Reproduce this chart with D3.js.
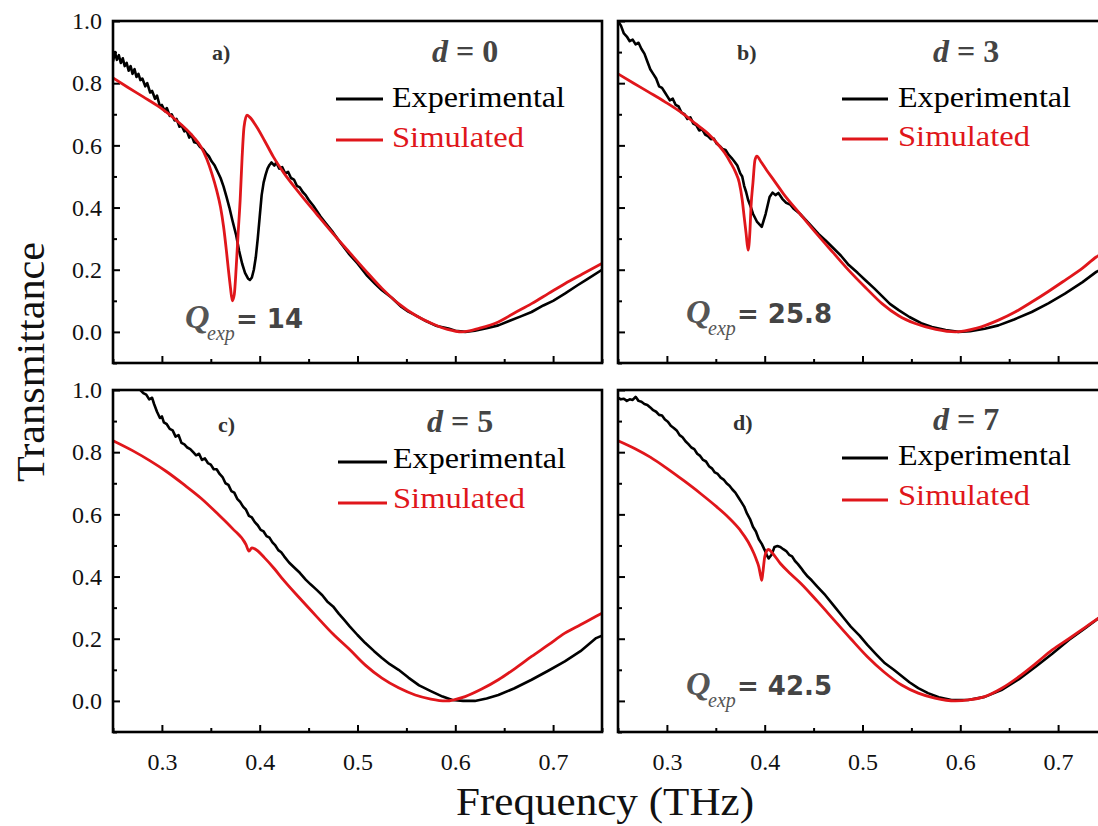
<!DOCTYPE html>
<html><head><meta charset="utf-8">
<script src="https://cdn.jsdelivr.net/npm/d3@7"></script>
<style>body{margin:0;background:#fff}svg{display:block}</style>
</head><body>
<script>
// ---------- DATA ----------
const xTicks = [0.3, 0.4, 0.5, 0.6, 0.7];
const yTicks = [0.0, 0.2, 0.4, 0.6, 0.8, 1.0];
const panelLabels = ["a)", "b)", "c)", "d)"];
const dValues = ["0", "3", "5", "7"];
const qValues = ["14", "25.8", null, "42.5"];
const seriesNames = ["Experimental", "Simulated"];

// Panel a (d = 0)
const expA = [[0.250,0.87],[0.252,0.90],[0.254,0.875],[0.256,0.89],[0.258,0.865],[0.260,0.88],[0.262,0.855],[0.264,0.865],[0.266,0.84],[0.268,0.855],[0.270,0.83],[0.272,0.845],[0.274,0.82],[0.276,0.83],[0.278,0.81],[0.280,0.815],[0.283,0.79],[0.285,0.80],[0.288,0.77],[0.290,0.775],[0.293,0.75],[0.295,0.76],[0.298,0.725],[0.300,0.73],[0.303,0.71],[0.305,0.72],[0.308,0.695],[0.310,0.70],[0.313,0.68],[0.315,0.685],[0.318,0.66],[0.320,0.665],[0.323,0.645],[0.325,0.65],[0.328,0.625],[0.330,0.635],[0.333,0.61],[0.336,0.608],[0.339,0.595],[0.342,0.588],[0.345,0.575],[0.348,0.565],[0.351,0.548],[0.354,0.535],[0.357,0.515],[0.360,0.495],[0.363,0.468],[0.366,0.435],[0.369,0.40],[0.372,0.36],[0.374,0.335],[0.376,0.31],[0.379,0.26],[0.382,0.22],[0.385,0.19],[0.388,0.172],[0.390,0.167],[0.392,0.175],[0.394,0.20],[0.396,0.24],[0.398,0.30],[0.400,0.37],[0.402,0.44],[0.404,0.48],[0.406,0.505],[0.408,0.525],[0.410,0.537],[0.412,0.545],[0.415,0.535],[0.417,0.545],[0.420,0.525],[0.423,0.53],[0.426,0.51],[0.429,0.515],[0.432,0.495],[0.435,0.49],[0.438,0.47],[0.441,0.465],[0.444,0.45],[0.447,0.44],[0.450,0.425],[0.455,0.405],[0.462,0.372],[0.468,0.348],[0.475,0.32],[0.483,0.285],[0.491,0.252],[0.500,0.22],[0.510,0.18],[0.518,0.155],[0.525,0.134],[0.535,0.11],[0.545,0.08],[0.552,0.065],[0.559,0.054],[0.570,0.035],[0.580,0.02],[0.593,0.011],[0.600,0.004],[0.610,0.0],[0.620,0.004],[0.632,0.012],[0.644,0.021],[0.655,0.035],[0.667,0.05],[0.678,0.064],[0.690,0.085],[0.700,0.10],[0.712,0.123],[0.725,0.15],[0.735,0.17],[0.750,0.20]];
const simA = [[0.250,0.817],[0.265,0.787],[0.281,0.756],[0.298,0.722],[0.315,0.680],[0.332,0.628],[0.340,0.595],[0.346,0.555],[0.351,0.510],[0.356,0.455],[0.360,0.400],[0.363,0.340],[0.366,0.260],[0.368,0.200],[0.370,0.145],[0.372,0.100],[0.374,0.120],[0.376,0.209],[0.378,0.320],[0.380,0.423],[0.382,0.560],[0.384,0.660],[0.387,0.697],[0.390,0.690],[0.397,0.659],[0.405,0.615],[0.414,0.563],[0.425,0.510],[0.441,0.445],[0.458,0.380],[0.475,0.316],[0.492,0.255],[0.508,0.198],[0.525,0.140],[0.542,0.091],[0.560,0.052],[0.576,0.027],[0.592,0.008],[0.607,0.0],[0.625,0.012],[0.644,0.032],[0.660,0.060],[0.678,0.091],[0.695,0.123],[0.712,0.155],[0.730,0.186],[0.750,0.220]];

// Panel b (d = 3)
const expB = [[0.250,1.00],[0.253,0.985],[0.256,0.96],[0.259,0.95],[0.262,0.935],[0.265,0.94],[0.268,0.925],[0.271,0.93],[0.274,0.91],[0.277,0.895],[0.280,0.87],[0.283,0.845],[0.286,0.83],[0.289,0.815],[0.292,0.79],[0.295,0.785],[0.298,0.77],[0.300,0.76],[0.303,0.745],[0.306,0.75],[0.309,0.73],[0.312,0.725],[0.315,0.705],[0.318,0.70],[0.321,0.685],[0.324,0.69],[0.327,0.67],[0.330,0.665],[0.333,0.648],[0.336,0.652],[0.339,0.635],[0.342,0.63],[0.345,0.62],[0.348,0.622],[0.351,0.605],[0.354,0.598],[0.357,0.588],[0.360,0.585],[0.363,0.57],[0.366,0.56],[0.369,0.548],[0.372,0.535],[0.375,0.51],[0.377,0.50],[0.379,0.47],[0.381,0.45],[0.383,0.425],[0.386,0.40],[0.388,0.38],[0.392,0.355],[0.397,0.338],[0.401,0.38],[0.405,0.434],[0.408,0.448],[0.411,0.44],[0.414,0.447],[0.418,0.428],[0.422,0.415],[0.426,0.41],[0.430,0.395],[0.436,0.38],[0.445,0.35],[0.455,0.315],[0.462,0.295],[0.469,0.273],[0.478,0.245],[0.486,0.215],[0.495,0.19],[0.503,0.166],[0.512,0.14],[0.520,0.115],[0.528,0.09],[0.537,0.07],[0.548,0.048],[0.560,0.028],[0.571,0.016],[0.585,0.006],[0.598,0.0],[0.610,0.002],[0.625,0.01],[0.639,0.021],[0.655,0.04],[0.673,0.064],[0.690,0.092],[0.707,0.123],[0.725,0.16],[0.739,0.193],[0.750,0.21]];
const simB = [[0.250,0.830],[0.266,0.800],[0.281,0.772],[0.298,0.740],[0.315,0.705],[0.330,0.668],[0.342,0.638],[0.351,0.608],[0.359,0.576],[0.365,0.545],[0.370,0.515],[0.374,0.480],[0.377,0.425],[0.379,0.370],[0.381,0.316],[0.383,0.263],[0.385,0.330],[0.386,0.402],[0.388,0.480],[0.390,0.552],[0.392,0.565],[0.396,0.548],[0.402,0.520],[0.410,0.485],[0.419,0.445],[0.436,0.380],[0.453,0.316],[0.470,0.255],[0.486,0.198],[0.503,0.143],[0.520,0.091],[0.537,0.052],[0.554,0.027],[0.575,0.008],[0.595,0.0],[0.617,0.012],[0.639,0.038],[0.656,0.064],[0.673,0.096],[0.690,0.130],[0.707,0.166],[0.725,0.205],[0.739,0.241],[0.750,0.262]];

// Panel c (d = 5)
const expC = [[0.278,1.00],[0.281,0.99],[0.284,0.985],[0.287,0.97],[0.290,0.975],[0.292,0.955],[0.295,0.93],[0.298,0.91],[0.300,0.915],[0.302,0.896],[0.305,0.89],[0.308,0.875],[0.311,0.87],[0.314,0.85],[0.317,0.855],[0.320,0.83],[0.323,0.825],[0.326,0.815],[0.329,0.81],[0.332,0.80],[0.335,0.79],[0.338,0.795],[0.341,0.775],[0.344,0.78],[0.347,0.765],[0.350,0.76],[0.353,0.745],[0.356,0.745],[0.359,0.73],[0.362,0.72],[0.365,0.70],[0.368,0.695],[0.371,0.675],[0.374,0.67],[0.377,0.65],[0.380,0.64],[0.383,0.625],[0.386,0.615],[0.389,0.595],[0.392,0.59],[0.395,0.575],[0.398,0.565],[0.401,0.55],[0.404,0.545],[0.407,0.53],[0.410,0.525],[0.413,0.51],[0.416,0.50],[0.419,0.485],[0.422,0.478],[0.425,0.465],[0.430,0.445],[0.435,0.43],[0.441,0.412],[0.447,0.39],[0.452,0.375],[0.458,0.358],[0.464,0.34],[0.469,0.32],[0.475,0.304],[0.481,0.28],[0.486,0.262],[0.492,0.24],[0.500,0.212],[0.508,0.186],[0.517,0.16],[0.525,0.138],[0.533,0.118],[0.542,0.10],[0.552,0.075],[0.563,0.05],[0.576,0.03],[0.587,0.014],[0.597,0.003],[0.608,0.0],[0.620,0.0],[0.632,0.008],[0.644,0.019],[0.660,0.04],[0.678,0.068],[0.695,0.097],[0.712,0.127],[0.728,0.16],[0.744,0.202],[0.750,0.21]];
const simC = [[0.250,0.837],[0.270,0.805],[0.288,0.772],[0.305,0.737],[0.322,0.697],[0.340,0.652],[0.356,0.605],[0.372,0.555],[0.386,0.503],[0.389,0.482],[0.392,0.492],[0.395,0.489],[0.405,0.460],[0.415,0.425],[0.424,0.390],[0.441,0.330],[0.458,0.272],[0.475,0.215],[0.492,0.165],[0.508,0.115],[0.525,0.073],[0.542,0.042],[0.559,0.019],[0.575,0.006],[0.590,0.0],[0.610,0.014],[0.627,0.038],[0.644,0.068],[0.661,0.104],[0.678,0.143],[0.695,0.180],[0.712,0.218],[0.728,0.245],[0.744,0.272],[0.750,0.282]];

// Panel d (d = 7)
const expD = [[0.250,0.975],[0.253,0.97],[0.256,0.972],[0.259,0.965],[0.262,0.97],[0.265,0.968],[0.268,0.978],[0.271,0.965],[0.274,0.962],[0.277,0.955],[0.280,0.952],[0.283,0.944],[0.286,0.935],[0.289,0.93],[0.292,0.92],[0.295,0.918],[0.298,0.905],[0.301,0.898],[0.304,0.885],[0.307,0.878],[0.310,0.87],[0.313,0.855],[0.316,0.848],[0.319,0.835],[0.322,0.826],[0.325,0.815],[0.328,0.81],[0.331,0.795],[0.334,0.788],[0.337,0.775],[0.340,0.77],[0.343,0.755],[0.346,0.748],[0.349,0.735],[0.352,0.73],[0.355,0.718],[0.358,0.712],[0.361,0.70],[0.364,0.692],[0.367,0.68],[0.370,0.67],[0.373,0.655],[0.376,0.64],[0.379,0.625],[0.382,0.602],[0.385,0.585],[0.388,0.56],[0.391,0.545],[0.394,0.52],[0.397,0.505],[0.400,0.485],[0.402,0.47],[0.404,0.458],[0.407,0.47],[0.410,0.495],[0.413,0.498],[0.416,0.495],[0.419,0.488],[0.422,0.482],[0.425,0.47],[0.428,0.465],[0.431,0.45],[0.434,0.44],[0.437,0.428],[0.440,0.415],[0.444,0.40],[0.448,0.388],[0.454,0.367],[0.462,0.34],[0.471,0.305],[0.480,0.27],[0.488,0.239],[0.497,0.21],[0.505,0.18],[0.514,0.15],[0.523,0.121],[0.532,0.10],[0.540,0.08],[0.548,0.06],[0.557,0.041],[0.567,0.025],[0.578,0.012],[0.591,0.003],[0.608,0.003],[0.625,0.013],[0.642,0.035],[0.660,0.07],[0.677,0.11],[0.694,0.152],[0.711,0.196],[0.727,0.232],[0.743,0.27],[0.750,0.285]];
const simD = [[0.250,0.837],[0.267,0.812],[0.283,0.784],[0.300,0.748],[0.317,0.709],[0.334,0.668],[0.351,0.624],[0.363,0.590],[0.375,0.549],[0.383,0.512],[0.389,0.474],[0.392,0.450],[0.394,0.431],[0.396,0.400],[0.397,0.388],[0.398,0.410],[0.400,0.463],[0.402,0.482],[0.404,0.487],[0.408,0.475],[0.416,0.442],[0.426,0.410],[0.437,0.378],[0.454,0.320],[0.471,0.260],[0.488,0.200],[0.505,0.142],[0.522,0.093],[0.540,0.051],[0.557,0.025],[0.574,0.009],[0.595,0.0],[0.610,0.004],[0.625,0.014],[0.642,0.040],[0.660,0.078],[0.677,0.120],[0.694,0.164],[0.711,0.200],[0.727,0.235],[0.743,0.270],[0.750,0.285]];

const expSeries = [expA, expB, expC, expD];
const simSeries = [simA, simB, simC, simD];

// ---------- LAYOUT ----------
const W = 1098, H = 826;
const colX = [[113, 602], [618, 1107]];
const rowY = [[21, 363], [390, 732]];
const ann = [
  {lab:[99,39], d:[319,41], leg:[[223,270],[78,119]], legT:[279,[86,126]], q:[72,307]},
  {lab:[119,39], d:[315,41], leg:[[224,270],[78,118]], legT:[280,[86,125]], q:[68,302]},
  {lab:[105,42], d:[314,42], leg:[[225,274],[72,113]], legT:[280,[78,118]], q:null},
  {lab:[115,40], d:[315,40], leg:[[224,270],[68,110]], legT:[280,[75,115]], q:[68,305]}
];
const colors = {exp:"#000000", sim:"#e0161b"};
const SERIF = "'Liberation Serif','Times New Roman',Times,serif";

const svg = d3.select("body").append("svg").attr("width", W).attr("height", H)
  .attr("font-family", SERIF);

for (let i = 0; i < 4; i++) {
  const col = i % 2, row = Math.floor(i / 2);
  const [x0, x1] = colX[col], [y0, y1] = rowY[row];
  const x = d3.scaleLinear().domain([0.25, 0.75]).range([x0, x1]);
  const y = d3.scaleLinear().domain([-0.1, 1.0]).range([y1, y0]);
  const g = svg.append("g");
  const clipId = "clip" + i;
  svg.append("clipPath").attr("id", clipId).append("rect")
    .attr("x", x0).attr("y", y0).attr("width", x1 - x0).attr("height", y1 - y0);

  // axes (ticks inward)
  const xMinor = d3.range(0.25, 0.751, 0.05).filter(v => !xTicks.some(t => Math.abs(t - v) < 1e-6));
  const yMinor = d3.range(-0.1, 1.001, 0.2).map(v => +v.toFixed(2));
  const xAx = g.append("g").attr("transform", `translate(0,${y1})`)
    .call(d3.axisBottom(x).tickValues(xTicks).tickSizeInner(-7).tickSizeOuter(0)
      .tickFormat(row === 1 ? d3.format(".1f") : () => ""));
  xAx.attr("font-family", SERIF).attr("font-size", 24);
  xAx.select(".domain").remove();
  xAx.selectAll(".tick line").attr("stroke-width", 2);
  xAx.selectAll("text").attr("y", 21).attr("fill", "#111");
  g.append("g").attr("transform", `translate(0,${y1})`)
    .call(d3.axisBottom(x).tickValues(xMinor).tickSizeInner(-4).tickSizeOuter(0).tickFormat(() => ""))
    .call(a => a.select(".domain").remove()).selectAll("line").attr("stroke-width", 2);

  const yAx = g.append("g").attr("transform", `translate(${x0},0)`)
    .call(d3.axisLeft(y).tickValues(yTicks).tickSizeInner(-7).tickSizeOuter(0)
      .tickFormat(col === 0 ? d3.format(".1f") : () => ""));
  yAx.attr("font-family", SERIF).attr("font-size", 24);
  yAx.select(".domain").remove();
  yAx.selectAll(".tick line").attr("stroke-width", 2);
  yAx.selectAll("text").attr("x", -11).attr("fill", "#111");
  g.append("g").attr("transform", `translate(${x0},0)`)
    .call(d3.axisLeft(y).tickValues(yMinor).tickSizeInner(-4).tickSizeOuter(0).tickFormat(() => ""))
    .call(a => a.select(".domain").remove()).selectAll("line").attr("stroke-width", 2);

  // curves
  const lineExp = d3.line().x(d => x(d[0])).y(d => y(d[1])).curve(d3.curveLinear);
  const lineSim = d3.line().x(d => x(d[0])).y(d => y(d[1])).curve(d3.curveMonotoneX);
  g.append("path").datum(expSeries[i]).attr("d", lineExp).attr("fill", "none")
    .attr("stroke", colors.exp).attr("stroke-width", 2.6).attr("stroke-linejoin", "round")
    .attr("clip-path", `url(#${clipId})`);
  g.append("path").datum(simSeries[i]).attr("d", lineSim).attr("fill", "none")
    .attr("stroke", colors.sim).attr("stroke-width", 2.8).attr("clip-path", `url(#${clipId})`);

  // frame
  g.append("rect").attr("x", x0).attr("y", y0).attr("width", x1 - x0).attr("height", y1 - y0)
    .attr("fill", "none").attr("stroke", "#000").attr("stroke-width", 2.6);

  // annotations
  const a = ann[i];
  g.append("text").attr("x", x0 + a.lab[0]).attr("y", y0 + a.lab[1])
    .attr("font-size", 22).attr("font-weight", "bold").attr("fill", "#333").text(panelLabels[i]);
  const dt = g.append("text").attr("x", x0 + a.d[0]).attr("y", y0 + a.d[1])
    .attr("font-size", 32).attr("font-weight", "bold").attr("fill", "#444");
  dt.append("tspan").attr("font-style", "italic").text("d");
  dt.append("tspan").text(" = " + dValues[i]);

  // legend
  [colors.exp, colors.sim].forEach((c, k) => {
    g.append("line").attr("x1", x0 + a.leg[0][0]).attr("x2", x0 + a.leg[0][1])
      .attr("y1", y0 + a.leg[1][k]).attr("y2", y0 + a.leg[1][k])
      .attr("stroke", c).attr("stroke-width", 3);
    g.append("text").attr("x", x0 + a.legT[0]).attr("y", y0 + a.legT[1][k])
      .attr("font-size", 30).attr("fill", c)
      .attr("textLength", k === 0 ? 173 : 132).attr("lengthAdjust", "spacingAndGlyphs")
      .text(seriesNames[k]);
  });

  // Q annotation
  if (a.q) {
    const qx = x0 + a.q[0], qy = y0 + a.q[1];
    g.append("text").attr("x", qx).attr("y", qy).attr("font-size", 34)
      .attr("font-style", "italic").attr("font-weight", "bold").attr("fill", "#555").text("Q");
    g.append("text").attr("x", qx + 22).attr("y", qy + 12).attr("font-size", 20)
      .attr("font-style", "italic").attr("fill", "#555").text("exp");
    g.append("text").attr("x", qx + 51).attr("y", qy).attr("font-size", 26)
      .attr("font-family", "'DejaVu Sans',Verdana,sans-serif").attr("font-weight", "bold")
      .attr("fill", "#444").text("= " + qValues[i]);
  }
}

// axis titles
svg.append("text").attr("x", 605).attr("y", 815).attr("text-anchor", "middle")
  .attr("font-size", 40).attr("fill", "#111")
  .attr("textLength", 298).attr("lengthAdjust", "spacingAndGlyphs").text("Frequency (THz)");
svg.append("text").attr("transform", "translate(44,362) rotate(-90)").attr("text-anchor", "middle")
  .attr("font-size", 40).attr("fill", "#111")
  .attr("textLength", 240).attr("lengthAdjust", "spacingAndGlyphs").text("Transmittance");
</script>
</body></html>
